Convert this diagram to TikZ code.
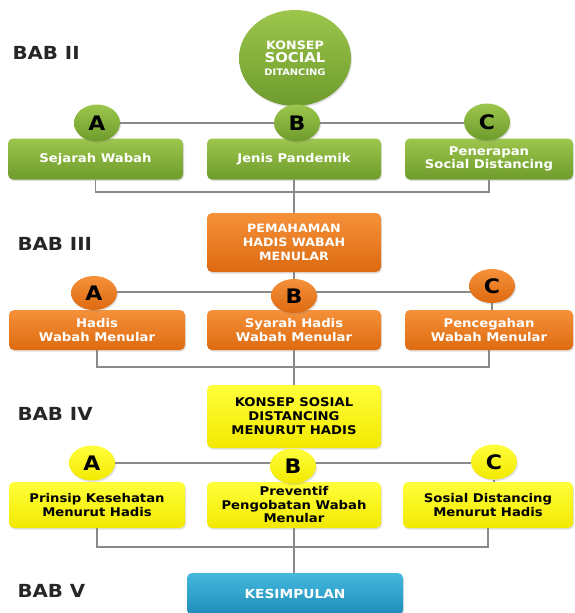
\documentclass[tikz,border=0pt]{standalone}
\usepackage{fontspec}
\setmainfont{DejaVu Sans}[FakeStretch=1.1]
\usetikzlibrary{shapes.geometric,shadows,backgrounds}
\definecolor{gtop}{HTML}{9CC64C}
\definecolor{gbot}{HTML}{6E9B2C}
\definecolor{otop}{HTML}{F5913A}
\definecolor{obot}{HTML}{DD6A10}
\definecolor{ytop}{HTML}{FFFF3A}
\definecolor{ybot}{HTML}{F2E800}
\definecolor{btop}{HTML}{45B8DE}
\definecolor{bbot}{HTML}{1F8DB8}
\definecolor{conn}{HTML}{8A8A8A}
\tikzset{
  shade/.style={drop shadow={shadow xshift=1pt,shadow yshift=-1.5pt,opacity=0.25}},
  boxbase/.style={rectangle,rounded corners=5pt,align=center,inner sep=2pt,shade,
    font=\bfseries\fontsize{12}{13.5}\selectfont},
  gbox/.style={boxbase,top color=gtop,bottom color=gbot,text=white,minimum height=41pt},
  obox/.style={boxbase,top color=otop,bottom color=obot,text=white,minimum height=40pt},
  ybox/.style={boxbase,top color=ytop,bottom color=ybot,text=black,minimum height=46pt},
  bbox/.style={boxbase,top color=btop,bottom color=bbot,text=white},
  letterbase/.style={ellipse,inner sep=0pt,minimum width=46pt,minimum height=37pt,shade,
    text=black,font=\bfseries\fontsize{20}{20}\selectfont},
  gletter/.style={letterbase,top color=gtop,bottom color=gbot},
  oletter/.style={letterbase,top color=otop,bottom color=obot},
  yletter/.style={letterbase,top color=ytop,bottom color=ybot},
  bablabel/.style={anchor=west,text=black!85,font=\bfseries\fontsize{18}{18}\selectfont},
  link/.style={draw=conn,line width=1.2pt}
}
\begin{document}
\begin{tikzpicture}[x=1pt,y=-1pt]
\useasboundingbox (0,0) rectangle (574,613);
\clip (0,0) rectangle (574,613);
% labels
\node[bablabel] (bab2) at (9,53) {BAB II};
\node[bablabel] (bab3) at (14,244) {BAB III};
\node[bablabel] (bab4) at (14,414) {BAB IV};
\node[bablabel] (bab5) at (14,591) {BAB V};
% helper coordinates
\coordinate (gbr) at (0,192);
\coordinate (obr) at (0,367);
\coordinate (ybr) at (0,547);
\coordinate (gln) at (0,123);
\coordinate (oln) at (0,292);
\coordinate (yln) at (0,463);
% ---------- green level ----------
\node[ellipse,minimum width=112pt,minimum height=96pt,inner sep=0pt,shade,
  top color=gtop,bottom color=gbot,text=white,align=center] (top) at (295,58)
  {{\bfseries\fontsize{11.5}{12}\selectfont KONSEP}\\[1pt]
   {\bfseries\fontsize{13.5}{14}\selectfont SOCIAL}\\[1pt]
   {\bfseries\fontsize{9}{9}\selectfont DITANCING}};
\node[gbox,minimum width=175pt] (g1) at (95.5,159) {Sejarah Wabah};
\node[gbox,minimum width=174pt] (g2) at (294,159) {Jenis Pandemik};
\node[gbox,minimum width=168pt] (g3) at (489,159) {Penerapan\\Social Distancing};
\node[gletter] (gA) at (97,123) {A};
\node[gletter] (gB) at (297,123) {B};
\node[gletter] (gC) at (487,122) {C};
% ---------- orange level ----------
\node[obox,minimum width=174pt,minimum height=59pt,font=\bfseries\fontsize{11.5}{14}\selectfont] (o0) at (294,242.5) {PEMAHAMAN\\HADIS WABAH\\MENULAR};
\node[obox,minimum width=176pt] (o1) at (97,330) {Hadis\\Wabah Menular};
\node[obox,minimum width=174pt] (o2) at (294,330) {Syarah Hadis\\Wabah Menular};
\node[obox,minimum width=168pt] (o3) at (489,330) {Pencegahan\\Wabah Menular};
\node[oletter,minimum height=34pt] (oA) at (94,293) {A};
\node[oletter,minimum height=34pt] (oB) at (294,296) {B};
\node[oletter,minimum height=34pt] (oC) at (492,286) {C};
% ---------- yellow level ----------
\node[ybox,minimum width=174pt,minimum height=63pt,font=\bfseries\fontsize{12}{14}\selectfont] (y0) at (294,416.5) {KONSEP SOSIAL\\DISTANCING\\MENURUT HADIS};
\node[ybox,minimum width=176pt] (y1) at (97,505) {Prinsip Kesehatan\\Menurut Hadis};
\node[ybox,minimum width=174pt] (y2) at (294,505) {Preventif\\Pengobatan Wabah\\Menular};
\node[ybox,minimum width=170pt] (y3) at (488,505) {Sosial Distancing\\Menurut Hadis};
\node[yletter,minimum height=35pt] (yA) at (92,463) {A};
\node[yletter,minimum height=35pt] (yB) at (293,466) {B};
\node[yletter,minimum height=35pt] (yC) at (494,462) {C};
% ---------- blue ----------
\node[bbox,minimum width=216pt,minimum height=42pt,font=\bfseries\fontsize{12.5}{13}\selectfont] (kes) at (295,594) {KESIMPULAN};
% ---------- connectors (behind) ----------
\begin{pgfonlayer}{background}
\fill[white] (0,0) rectangle (574,613);
\draw[link] (gA |- gln) -- (gC |- gln);
\draw[link] (top) -- (gB);
\draw[link] (g1.south) -- (g1.south |- gbr) -- (g3.south |- gbr) -- (g3.south);
\draw[link] (g2.south) -- (g2.south |- o0.north);
\draw[link] (oA |- oln) -- (oC |- oln);
\draw[link] (o0) -- (oB);
\draw[link] (oC) -- (oC |- o3.north);
\draw[link] (o1.south) -- (o1.south |- obr) -- (o3.south |- obr) -- (o3.south);
\draw[link] (o2.south) -- (o2.south |- y0.north);
\draw[link] (yA |- yln) -- (yC |- yln);
\draw[link] (y0) -- (yB);
\draw[link] (yC) -- (yC |- y3.north);
\draw[link] (y1.south) -- (y1.south |- ybr) -- (y3.south |- ybr) -- (y3.south);
\draw[link] (y2.south) -- (y2.south |- kes.north);
\end{pgfonlayer}
\end{tikzpicture}
\end{document}
